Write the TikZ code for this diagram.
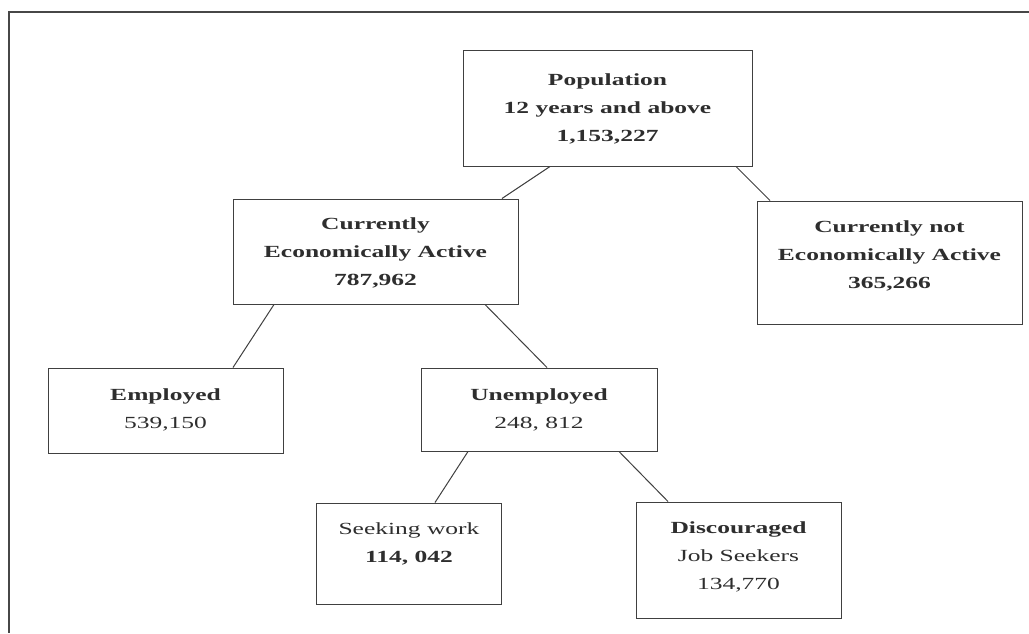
\documentclass[tikz,border=0pt]{standalone}
\usepackage{fontspec}
\setmainfont{Liberation Serif}[FakeStretch=1.5]
\begin{document}
\begin{tikzpicture}[x=1pt,y=-1pt,
  box/.style={draw=black!75, line width=1pt, fill=none, inner sep=0pt},
  txt/.style={align=center, inner sep=0pt, text=black!82, font=\fontsize{17}{28}\selectfont},
  link/.style={draw=black!75, line width=1pt},
  frame/.style={draw=black!72, line width=2.5pt}]
\useasboundingbox (0,0) rectangle (1029,633);
% frame
\coordinate (fTR) at (1029,12);
\coordinate (fTL) at (9,12);
\coordinate (fBL) at (9,633);
\draw[frame] (fTR) -- (fTL) -- (fBL);
% boxes
\node[box, minimum width=289pt, minimum height=116pt] (pop) at (607.5,108) {};
\node[box, minimum width=285pt, minimum height=105pt] (cea) at (375.5,251.5) {};
\node[box, minimum width=265pt, minimum height=123pt] (cnea) at (889.5,262.5) {};
\node[box, minimum width=235pt, minimum height=85pt] (emp) at (165.5,410.5) {};
\node[box, minimum width=236pt, minimum height=83pt] (unemp) at (539,409.5) {};
\node[box, minimum width=185pt, minimum height=101pt] (seek) at (408.5,553.5) {};
\node[box, minimum width=205pt, minimum height=116pt] (disc) at (738.5,560) {};
% texts
\node[txt] (popT) at (607.5,109) {\textbf{Population}\\\textbf{12 years and above}\\\textbf{1,153,227}};
\node[txt] (ceaT) at (375.5,253) {\textbf{Currently}\\\textbf{Economically Active}\\\textbf{787,962}};
\node[txt] (cneaT) at (889.5,256) {\textbf{Currently not}\\\textbf{Economically Active}\\\textbf{365,266}};
\node[txt] (empT) at (165.5,410) {\textbf{Employed}\\539,150};
\node[txt] (unempT) at (539,410) {\textbf{Unemployed}\\248, 812};
\node[txt] (seekT) at (409,544) {Seeking work\\\textbf{114, 042}};
\node[txt] (discT) at (738.5,557) {\textbf{Discouraged}\\Job Seekers\\134,770};
% connectors
\draw[link] ([xshift=-57.5pt]pop.south) -- ([xshift=126.5pt]cea.north);
\draw[link] ([xshift=128.5pt]pop.south) -- ([xshift=-119.5pt]cnea.north);
\draw[link] ([xshift=-101.5pt]cea.south) -- ([xshift=67.5pt]emp.north);
\draw[link] ([xshift=109.5pt]cea.south) -- ([xshift=8pt]unemp.north);
\draw[link] ([xshift=-71pt]unemp.south) -- ([xshift=26.5pt]seek.north);
\draw[link] ([xshift=80pt]unemp.south) -- ([xshift=-70.5pt]disc.north);
\end{tikzpicture}
\end{document}
